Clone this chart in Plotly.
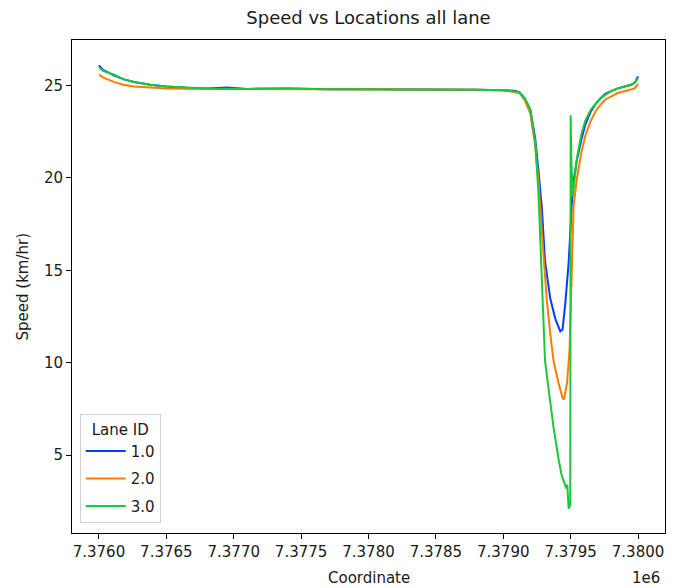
import plotly.graph_objects as go

# ---- data ----
lane1_x = [7376000, 7376030, 7376060, 7376110, 7376180, 7376260, 7376380, 7376500, 7376650,
           7376800, 7376950, 7377100, 7377400, 7377700, 7378000, 7378400, 7378800, 7379000,
           7379080, 7379120, 7379160, 7379200, 7379236, 7379261, 7379286, 7379310, 7379348,
           7379385, 7379423, 7379440, 7379460, 7379485, 7379510, 7379525, 7379547, 7379580,
           7379609, 7379650, 7379684, 7379720, 7379758, 7379800, 7379850, 7379900, 7379950,
           7379975, 7380000]
lane1_y = [26.1, 25.85, 25.75, 25.55, 25.35, 25.2, 25.05, 24.95, 24.88,
           24.85, 24.9, 24.82, 24.85, 24.8, 24.8, 24.8, 24.78, 24.75,
           24.72, 24.65, 24.3, 23.7, 22.2, 20.4, 18.4, 15.5, 13.5,
           12.4, 11.7, 11.8, 13.2, 15.4, 18.8, 20.0, 21.0, 22.1,
           22.9, 23.6, 24.0, 24.3, 24.55, 24.7, 24.85, 24.95, 25.05,
           25.15, 25.5]

lane2_x = [7376000, 7376030, 7376110, 7376180, 7376260, 7376380, 7376500, 7376800, 7377100,
           7377400, 7377700, 7378000, 7378400, 7378800, 7379000, 7379120, 7379160, 7379200,
           7379236, 7379261, 7379286, 7379323, 7379348, 7379373, 7379410, 7379440, 7379450,
           7379473, 7379492, 7379510, 7379522, 7379547, 7379580, 7379609, 7379650, 7379684,
           7379720, 7379758, 7379800, 7379850, 7379900, 7379950, 7379975, 7380000]
lane2_y = [25.6, 25.45, 25.2, 25.05, 24.95, 24.88, 24.85, 24.82, 24.8,
           24.82, 24.8, 24.8, 24.8, 24.78, 24.75, 24.6, 24.2, 23.5,
           21.8, 19.9, 17.1, 13.4, 11.6, 10.1, 8.9, 8.1, 8.0,
           8.9, 10.7, 15.0, 18.5, 20.0, 21.4, 22.3, 23.1, 23.6,
           23.95, 24.25, 24.4, 24.6, 24.7, 24.8, 24.85, 25.1]

lane3_x = [7376000, 7376030, 7376110, 7376180, 7376260, 7376380, 7376500, 7376650, 7376800,
           7377100, 7377400, 7377700, 7378000, 7378400, 7378800, 7379000, 7379120, 7379160,
           7379200, 7379236, 7379261, 7379286, 7379310, 7379348, 7379373, 7379410, 7379430,
           7379448, 7379467, 7379475, 7379485, 7379497, 7379500, 7379505, 7379515, 7379525,
           7379547, 7379580, 7379609, 7379650, 7379684, 7379720, 7379758, 7379800, 7379850,
           7379900, 7379950, 7379975, 7380000]
lane3_y = [26.0, 25.8, 25.6, 25.35, 25.2, 25.05, 24.95, 24.88, 24.85,
           24.82, 24.85, 24.8, 24.8, 24.8, 24.78, 24.75, 24.65, 24.3,
           23.7, 22.0, 19.2, 14.5, 10.1, 7.9, 6.5, 4.8, 4.0,
           3.6, 3.2, 3.4, 2.1, 2.3, 23.4, 21.0, 19.0, 19.6,
           21.1, 22.4, 23.1, 23.7, 24.0, 24.3, 24.5, 24.7, 24.85,
           24.95, 25.05, 25.15, 25.4]

lane_names = ["1.0", "2.0", "3.0"]
lane_colors = ["#023eff", "#ff7c00", "#1ac938"]

x_tick_vals = [7376000, 7376500, 7377000, 7377500, 7378000, 7378500, 7379000, 7379500, 7380000]
x_tick_text = ["7.3760", "7.3765", "7.3770", "7.3775", "7.3780", "7.3785", "7.3790", "7.3795", "7.3800"]
y_tick_vals = [5, 10, 15, 20, 25]

FONT = "DejaVu Sans"
TXT = "#1a1a1a"

fig = go.Figure()
for xs, ys, name, col in zip([lane1_x, lane2_x, lane3_x], [lane1_y, lane2_y, lane3_y],
                             lane_names, lane_colors):
    fig.add_trace(go.Scatter(x=xs, y=ys, mode="lines", name=name, legendgroup=name,
                             line=dict(color=col, width=2)))

axis_common = dict(showline=True, linecolor="black", linewidth=1, mirror=True,
                   ticks="outside", ticklen=5, tickcolor="black", tickwidth=1,
                   showgrid=False, zeroline=False, automargin=False,
                   tickfont=dict(family=FONT, size=15, color=TXT))

fig.update_xaxes(range=[7375800, 7380200], tickvals=x_tick_vals, ticktext=x_tick_text,
                 **axis_common)
fig.update_yaxes(range=[0.78, 27.47], tickvals=y_tick_vals, **axis_common)

fig.add_annotation(text="Coordinate", xref="paper", yref="paper", x=0.5, y=0,
                   xanchor="center", yanchor="middle", yshift=-45, showarrow=False,
                   font=dict(family=FONT, size=15, color=TXT))
fig.add_annotation(text="Speed (km/hr)", xref="paper", yref="paper", x=0, y=0.5,
                   xanchor="center", yanchor="middle", xshift=-50, textangle=-90,
                   showarrow=False, font=dict(family=FONT, size=15, color=TXT))
fig.add_annotation(text="1e6", xref="paper", yref="paper", x=1.0, y=0, xanchor="right",
                   yanchor="middle", yshift=-45, xshift=-3, showarrow=False,
                   font=dict(family=FONT, size=15, color=TXT))

fig.update_layout(
    width=680, height=588,
    margin=dict(l=72, r=15, t=40, b=55),
    paper_bgcolor="white", plot_bgcolor="white",
    title=dict(text="Speed vs Locations all lane", x=0.5, xref="paper", xanchor="center",
               y=1, yref="container", yanchor="top", pad=dict(t=11),
               font=dict(family=FONT, size=18, color=TXT)),
    showlegend=True,
    legend=dict(x=0.013, y=0.02, xanchor="left", yanchor="bottom",
                bgcolor="rgba(255,255,255,0.8)", bordercolor="#d0d0d0", borderwidth=1,
                title=dict(text="Lane ID", side="top center",
                           font=dict(family=FONT, size=15, color=TXT)),
                font=dict(family=FONT, size=15, color=TXT),
                tracegroupgap=5, itemwidth=40),
)

fig.write_html("out.html")
